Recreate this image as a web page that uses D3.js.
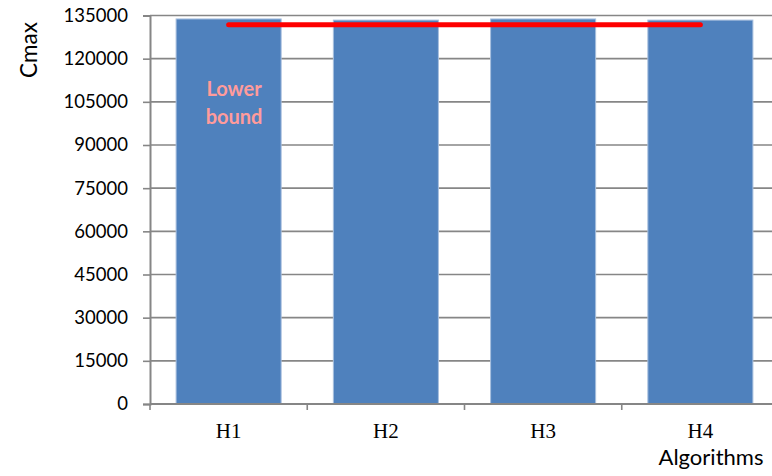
<!DOCTYPE html>
<html>
<head>
<meta charset="utf-8">
<script src="https://cdn.jsdelivr.net/npm/d3@7"></script>
<style>
  html, body { margin: 0; padding: 0; background: #fff; }
  svg { display: block; }
</style>
</head>
<body>
<svg id="chart" width="772" height="476"></svg>
<script>
// Makespan (Cmax) per heuristic, with the lower bound drawn across the bars
const algorithms = ["H1", "H2", "H3", "H4"];
const cmaxValues = [133800, 133400, 133800, 133400];
const lowerBound = 131800;
const yTicks = [0, 15000, 30000, 45000, 60000, 75000, 90000, 105000, 120000, 135000];

const svg = d3.select("#chart");
const sansFont = "Lato, 'Open Sans', sans-serif";
const serifFont = "'Liberation Serif', 'DejaVu Serif', serif";
const gridColor = "#868686";

const x = d3.scaleBand()
  .domain(algorithms)
  .range([150, 779])
  .paddingInner(0.332)
  .paddingOuter(0.166);

const y = d3.scaleLinear()
  .domain([0, 135000])
  .range([404, 15.5]);

// horizontal gridlines
svg.append("g")
  .selectAll("line")
  .data(yTicks.filter(d => d > 0))
  .join("line")
  .attr("x1", 150).attr("x2", 772)
  .attr("y1", d => y(d)).attr("y2", d => y(d))
  .attr("stroke", gridColor)
  .attr("stroke-width", 1.6);

// bars
svg.append("g")
  .selectAll("rect")
  .data(algorithms.map((a, i) => ({ a, v: cmaxValues[i] })))
  .join("rect")
  .attr("x", d => x(d.a))
  .attr("y", d => y(d.v))
  .attr("width", x.bandwidth())
  .attr("height", d => y(0) - y(d.v))
  .attr("fill", "#4F81BD")
  .attr("stroke", "#A7BFDE")
  .attr("stroke-width", 1);

// y axis
const yAxis = svg.append("g")
  .attr("transform", "translate(150,0)")
  .call(d3.axisLeft(y).tickValues(yTicks).tickSize(7).tickPadding(15).tickFormat(d3.format("d")));
yAxis.select(".domain").attr("stroke", gridColor).attr("stroke-width", 2);
yAxis.selectAll(".tick line").attr("stroke", gridColor).attr("stroke-width", 1.6);
yAxis.selectAll(".tick text")
  .attr("font-family", sansFont).attr("font-size", 18.5).attr("fill", "#000");

// x axis
const xAxis = svg.append("g")
  .attr("transform", "translate(0,404)");
xAxis.append("line")
  .attr("x1", 150).attr("x2", 772)
  .attr("stroke", gridColor).attr("stroke-width", 2);
const bounds = algorithms.map(a => x(a) - x.step() * x.paddingInner() / 2).concat([x.range()[1]]);
xAxis.selectAll("line.cat")
  .data(bounds)
  .join("line")
  .attr("class", "cat")
  .attr("x1", d => d).attr("x2", d => d)
  .attr("y1", 0).attr("y2", 6)
  .attr("stroke", gridColor).attr("stroke-width", 1.6);
xAxis.selectAll("text")
  .data(algorithms)
  .join("text")
  .attr("x", d => x(d) + x.bandwidth() / 2)
  .attr("y", 34)
  .attr("text-anchor", "middle")
  .attr("font-family", serifFont)
  .attr("font-size", 21)
  .text(d => d);

// lower bound line from the first to the last bar centre
svg.append("line")
  .attr("x1", x(algorithms[0]) + x.bandwidth() / 2)
  .attr("x2", x(algorithms[algorithms.length - 1]) + x.bandwidth() / 2)
  .attr("y1", y(lowerBound)).attr("y2", y(lowerBound))
  .attr("stroke", "#FF0000")
  .attr("stroke-width", 5)
  .attr("stroke-linecap", "round");

// lower bound label
const lbLabel = svg.append("text")
  .attr("text-anchor", "middle")
  .attr("font-family", sansFont)
  .attr("font-weight", "bold")
  .attr("font-size", 20)
  .attr("fill", "#FF9B9B");
lbLabel.append("tspan").attr("x", 234).attr("y", 96).text("Lower");
lbLabel.append("tspan").attr("x", 234).attr("y", 124).text("bound");

// axis titles
svg.append("text")
  .attr("transform", "translate(37,50) rotate(-90)")
  .attr("text-anchor", "middle")
  .attr("font-family", sansFont)
  .attr("font-size", 22.5)
  .text("Cmax");

svg.append("text")
  .attr("x", 711).attr("y", 465)
  .attr("text-anchor", "middle")
  .attr("font-family", sansFont)
  .attr("font-size", 22)
  .text("Algorithms");
</script>
</body>
</html>
